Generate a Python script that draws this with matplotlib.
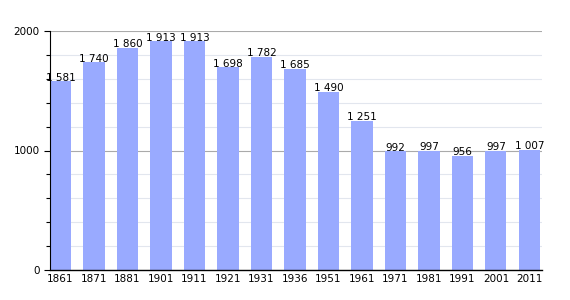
import matplotlib
matplotlib.use("Agg")
import matplotlib.pyplot as plt
from matplotlib.ticker import MultipleLocator

years = ["1861", "1871", "1881", "1901", "1911", "1921", "1931", "1936",
         "1951", "1961", "1971", "1981", "1991", "2001", "2011"]
population = [1581, 1740, 1860, 1913, 1913, 1698, 1782, 1685,
              1490, 1251, 992, 997, 956, 997, 1007]

fig = plt.figure(figsize=(5.7, 3.0), dpi=100)
ax = fig.add_axes([50 / 570, 30 / 300, 492 / 570, 239 / 300])

x = range(len(years))
width = 0.63
ax.bar(x, population, width=width, color="#99aaff", zorder=2)

for i, v in enumerate(population):
    label = f"{v:,}".replace(",", " ")
    ax.text(i, v - 12, label, ha="center", va="bottom", fontsize=7.5, zorder=3)

ax.set_xlim(-width / 2, len(years) - 1 + width / 2 + 0.06)
ax.set_ylim(0, 2000)
ax.set_xticks(list(x))
ax.set_xticklabels(years, fontsize=7.5)
ax.set_yticks([0, 1000, 2000])
ax.set_yticklabels(["0", "1000", "2000"], fontsize=7.5)
ax.yaxis.set_minor_locator(MultipleLocator(200))

ax.grid(axis="y", which="major", color="#aaaaaa", linewidth=0.8, zorder=1)
ax.grid(axis="y", which="minor", color="#e2e6ee", linewidth=0.8, zorder=1)

ax.tick_params(axis="x", length=0, pad=3)
ax.tick_params(axis="y", which="major", length=4, width=0.8)
ax.tick_params(axis="y", which="minor", length=3, width=0.8)

for side in ["top", "right"]:
    ax.spines[side].set_visible(False)
ax.spines["left"].set_linewidth(0.8)
ax.spines["bottom"].set_linewidth(1.0)

fig.savefig("out.png", dpi=100)
